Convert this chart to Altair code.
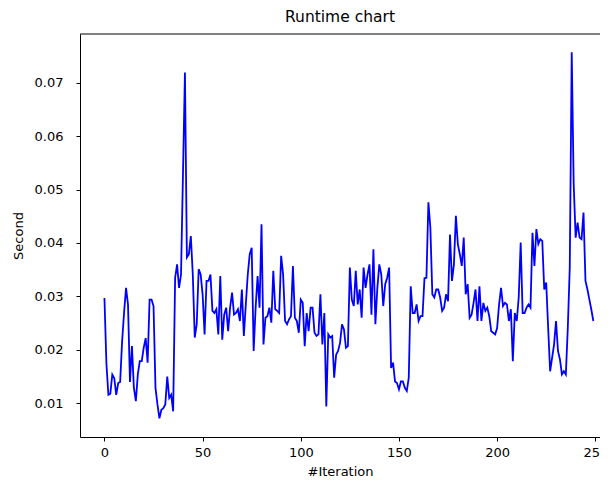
import altair as alt
import pandas as pd

# Runtime per iteration (seconds)
runtime_seconds = [
    0.0297, 0.0175, 0.0116, 0.0118, 0.0154, 0.0147, 0.0116, 0.0138, 0.0140, 0.0216,
    0.0270, 0.0316, 0.0285, 0.0140, 0.0207, 0.0129, 0.0104, 0.0154, 0.0179, 0.0179,
    0.0204, 0.0222, 0.0176, 0.0294, 0.0294, 0.0282, 0.0129, 0.0098, 0.0072, 0.0088,
    0.0091, 0.0098, 0.0150, 0.0110, 0.0116, 0.0085, 0.0335, 0.0360, 0.0316, 0.0341,
    0.0529, 0.0719, 0.0373, 0.0379, 0.0413, 0.0341, 0.0223, 0.0248, 0.0351, 0.0341,
    0.0304, 0.0229, 0.0329, 0.0329, 0.0341, 0.0273, 0.0269, 0.0276, 0.0229, 0.0338,
    0.0219, 0.0266, 0.0279, 0.0235, 0.0279, 0.0307, 0.0266, 0.0269, 0.0276, 0.0254,
    0.0313, 0.0226, 0.0285, 0.0341, 0.0379, 0.0391, 0.0198, 0.0279, 0.0338, 0.0279,
    0.0435, 0.0210, 0.0260, 0.0263, 0.0279, 0.0251, 0.0348, 0.0276, 0.0273, 0.0269,
    0.0376, 0.0341, 0.0254, 0.0248, 0.0257, 0.0263, 0.0357, 0.0260, 0.0254, 0.0232,
    0.0294, 0.0288, 0.0207, 0.0269, 0.0235, 0.0279, 0.0279, 0.0232, 0.0226, 0.0229,
    0.0304, 0.0210, 0.0269, 0.0094, 0.0229, 0.0223, 0.0226, 0.0148, 0.0191, 0.0198,
    0.0213, 0.0248, 0.0238, 0.0204, 0.0207, 0.0354, 0.0294, 0.0282, 0.0348, 0.0285,
    0.0313, 0.0260, 0.0354, 0.0316, 0.0341, 0.0360, 0.0266, 0.0388, 0.0248, 0.0316,
    0.0360, 0.0341, 0.0282, 0.0323, 0.0335, 0.0354, 0.0166, 0.0176, 0.0141, 0.0138,
    0.0126, 0.0141, 0.0141, 0.0129, 0.0123, 0.0148, 0.0319, 0.0269, 0.0269, 0.0285,
    0.0254, 0.0263, 0.0263, 0.0334, 0.0335, 0.0476, 0.0429, 0.0304, 0.0298, 0.0313,
    0.0313, 0.0298, 0.0273, 0.0279, 0.0304, 0.0291, 0.0416, 0.0329, 0.0360, 0.0451,
    0.0398, 0.0379, 0.0357, 0.0410, 0.0304, 0.0323, 0.0260, 0.0266, 0.0288, 0.0313,
    0.0254, 0.0319, 0.0254, 0.0288, 0.0273, 0.0279, 0.0263, 0.0235, 0.0232, 0.0229,
    0.0241, 0.0285, 0.0316, 0.0282, 0.0288, 0.0285, 0.0254, 0.0276, 0.0179, 0.0269,
    0.0254, 0.0298, 0.0401, 0.0269, 0.0269, 0.0279, 0.0285, 0.0279, 0.0419, 0.0357,
    0.0426, 0.0398, 0.0407, 0.0404, 0.0313, 0.0326, 0.0241, 0.0160, 0.0185, 0.0210,
    0.0254, 0.0198, 0.0182, 0.0154, 0.0160, 0.0154, 0.0241, 0.0354, 0.0757, 0.0510,
    0.0410, 0.0438, 0.0410, 0.0407, 0.0457, 0.0329, 0.0313, 0.0294, 0.0275, 0.0254,
]
iterations = list(range(len(runtime_seconds)))

x_ticks = [0, 50, 100, 150, 200, 250]
y_ticks = [0.01, 0.02, 0.03, 0.04, 0.05, 0.06, 0.07]

df = pd.DataFrame({"iteration": iterations, "second": runtime_seconds})

FONT = "DejaVu Sans"
PLOT_W = 520
PLOT_H = 403

line = alt.Chart(df).mark_line(color="#0000ff", strokeWidth=1.8, clip=True).encode(
    x=alt.X(
        "iteration:Q",
        scale=alt.Scale(domain=[-12.45, 252.4], nice=False, zero=False),
        axis=alt.Axis(values=x_ticks, title="#Iteration", labelPadding=5, titlePadding=6),
    ),
    y=alt.Y(
        "second:Q",
        scale=alt.Scale(domain=[0.0037, 0.0791], nice=False, zero=False),
        axis=alt.Axis(values=y_ticks, format=".2f", title="Second", labelPadding=13, titlePadding=9),
    ),
)

top_border = alt.Chart(pd.DataFrame({"b": [0]})).mark_rule(color="black", strokeWidth=1).encode(
    x=alt.value(0), x2=alt.value(PLOT_W), y=alt.value(0)
)

chart = (
    alt.layer(line, top_border)
    .properties(
        width=PLOT_W,
        height=PLOT_H,
        title=alt.TitleParams(
            "Runtime chart", font=FONT, fontSize=15.5, fontWeight="normal", color="black", offset=8
        ),
        autosize=alt.AutoSizeParams(type="none"),
        padding={"left": 72, "top": 26, "right": 0, "bottom": 41},
    )
    .configure_view(stroke=None)
    .configure_axis(
        grid=False,
        labelFont=FONT,
        labelFontSize=13,
        labelColor="black",
        titleFont=FONT,
        titleFontSize=13,
        titleFontWeight="normal",
        titleColor="black",
        domainColor="black",
        domainWidth=1,
        tickColor="black",
        tickSize=4,
        tickWidth=1,
    )
)

chart.save("out.html", embed_options={"renderer": "svg", "actions": False})
